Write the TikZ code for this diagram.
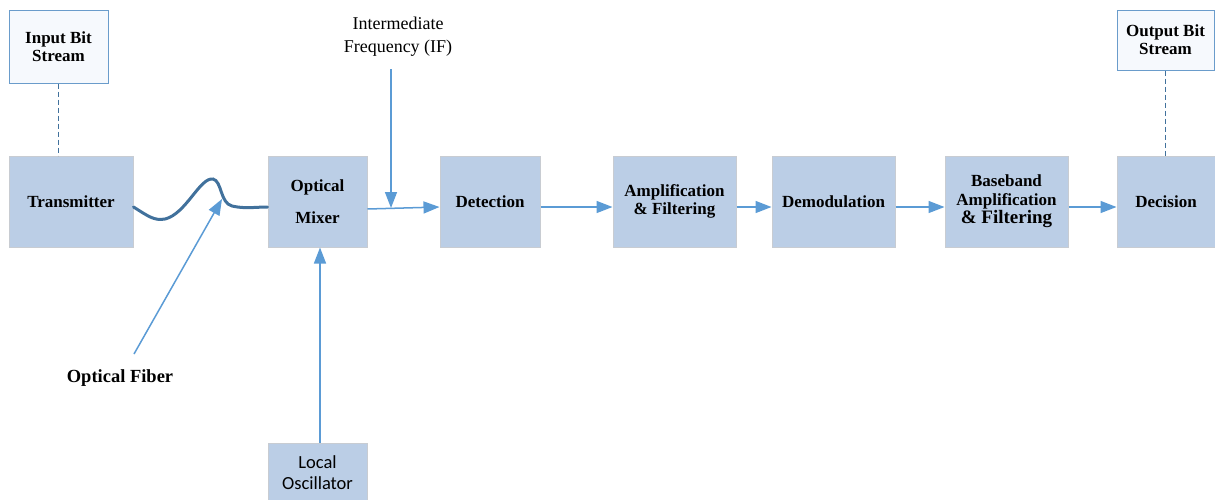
\documentclass[tikz,border=0pt]{standalone}
\usepackage{fontspec}
\setmainfont{Liberation Serif}
\newfontfamily\calibri{Carlito}
\usetikzlibrary{arrows.meta}
\definecolor{boxfill}{RGB}{187,206,230}
\definecolor{boxline}{RGB}{200,204,210}
\definecolor{arrowblue}{RGB}{91,155,213}
\definecolor{fiberblue}{RGB}{65,113,156}
\definecolor{streamline}{RGB}{106,156,203}
\definecolor{streamfill}{RGB}{246,249,253}
\tikzset{
  block/.style={draw=boxline, line width=1pt, fill=boxfill, minimum height=91pt,
    inner sep=0pt, align=center, font=\fontsize{17}{18.5}\selectfont\bfseries},
  streambox/.style={draw=streamline, line width=1pt, fill=streamfill, inner sep=0pt,
    align=center, font=\fontsize{17}{18}\selectfont\bfseries},
  flow/.style={draw=arrowblue, line width=1.5pt, -{Triangle[length=16pt,width=12pt]}},
  link/.style={draw=fiberblue, line width=1.4pt, dash pattern=on 5pt off 3pt},
  fiber/.style={draw=fiberblue, line width=3pt, line cap=round},
}
\begin{document}
\begin{tikzpicture}[x=1pt, y=-1pt]
\useasboundingbox (0,0) rectangle (1215,499);

% source and sink of the bit stream
\node[streambox, minimum width=99pt, minimum height=73pt] (inp) at (58.5,46.5) {Input Bit\\Stream};
\node[streambox, minimum width=97pt, minimum height=60pt] (out) at (1165.5,40) {Output Bit\\Stream};

% receiver chain
\node[block, minimum width=124pt] (tx)  at (71,201.5)    {Transmitter};
\node[block, minimum width=99pt]  (mix) at (317.5,201.5) {Optical\\[14pt]Mixer};
\node[block, minimum width=100pt] (det) at (490,201.5)   {Detection};
\node[block, minimum width=123pt] (amp) at (674.5,201.5) {Amplification\\\& Filtering};
\node[block, minimum width=123pt] (dem) at (833.5,201.5) {Demodulation};
\node[block, minimum width=123pt] (bb)  at (1006.5,201.5) {Baseband\\Amplification\\{\fontsize{19}{19}\selectfont\& Filtering}};
\node[block, minimum width=98pt]  (dec) at (1166,201.5)  {Decision};

% local oscillator
\node[draw=boxline, line width=1pt, fill=boxfill, minimum width=99pt, minimum height=60pt,
  inner sep=0pt, align=center, font=\calibri\fontsize{18.5}{21}\selectfont]
  (lo) at (317.5,473) {Local\\Oscillator};

% labels
\node[align=center, font=\fontsize{18}{23}\selectfont] (iflbl) at (398,37) {Intermediate\\Frequency (IF)};
\node[font=\fontsize{18.5}{20}\selectfont\bfseries] (fiberlbl) at (120,378) {Optical Fiber};
\coordinate (iftop) at (391,69);
\coordinate (fibertail) at (134,354);
\coordinate (fibertip) at (222,199);
\coordinate (ifjoin) at (391,208);

% dashed links to the bit streams
\draw[link] (inp.south) -- (inp.south |- tx.north);
\draw[link] (out.south) -- (out.south |- dec.north);

% the fibre
\draw[fiber] ([yshift=-5.5pt]tx.east)
  .. controls (148,216) and (154,221) .. (165,219)
  .. controls (186,214) and (200,177) .. (213,179)
  .. controls (222,181) and (220,203) .. (232,206)
  .. controls (245,209) and (255,207) .. ([yshift=-5.5pt]mix.west);
\draw[flow] (fibertail) -- (fibertip);

% signal flow
\draw[flow] (lo.north -| 320,0) -- (mix.south -| 320,0);
\draw[flow] ([yshift=-7.5pt]mix.east) -- ([yshift=-5.5pt]det.west);
\draw[flow] (iftop) -- (ifjoin);
\draw[flow] ([yshift=-5.5pt]det.east) -- ([yshift=-5.5pt]amp.west);
\draw[flow] ([yshift=-5.5pt]amp.east) -- ([yshift=-5.5pt]dem.west);
\draw[flow] ([yshift=-5.5pt]dem.east) -- ([yshift=-5.5pt]bb.west);
\draw[flow] ([yshift=-5.5pt]bb.east) -- ([yshift=-5.5pt]dec.west);
\end{tikzpicture}
\end{document}
